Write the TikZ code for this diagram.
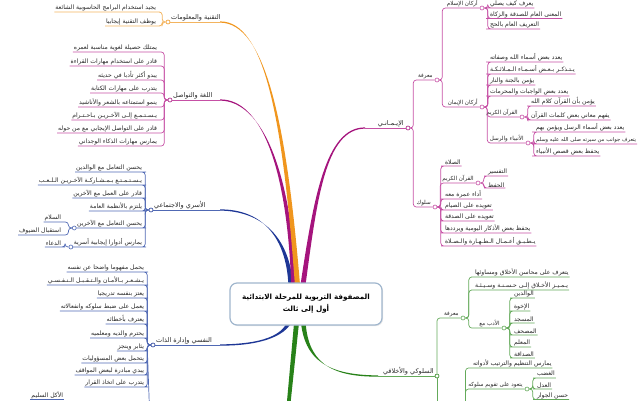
\documentclass[tikz,border=0pt]{standalone}
\usepackage{fontspec}
\TeXXeTstate=1
\newfontfamily\arf[Script=Arabic]{DejaVu Sans}
\usetikzlibrary{calc,shadows}
\definecolor{org}{RGB}{240,150,30}
\definecolor{orgl}{RGB}{243,180,95}
\definecolor{mag}{RGB}{165,20,125}
\definecolor{magl}{RGB}{198,80,165}
\definecolor{blu}{RGB}{30,55,150}
\definecolor{blul}{RGB}{80,105,180}
\definecolor{grn}{RGB}{40,130,25}
\definecolor{grnl}{RGB}{100,170,90}
\definecolor{boxb}{RGB}{160,182,205}
\newcommand{\taper}[6]{\fill[#1] ($(#2)+(-#6,0)$) .. controls ($(#3)+(-#6*0.7,0)$) and ($(#4)+(0,-1)$) .. ($(#5)+(0,-0.6)$) -- ($(#5)+(0,0.6)$) .. controls ($(#4)+(0,1)$) and ($(#3)+(#6*0.7,0)$) .. ($(#2)+(#6,0)$) -- cycle;}
\newcommand{\lchild}[6]{\node[item,anchor=south east] (#1) at (#4,#5) {#6}; \draw[#2] (#3.west) -- ++(-3.5,0) |- (#1.south east) -- (#1.south west);}
\newcommand{\rchild}[6]{\node[item,anchor=south west] (#1) at (#4,#5) {#6}; \draw[#2] (#3.east) -- ++(3.5,0) |- (#1.south west) -- (#1.south east);}
\tikzset{
  item/.style={font=\arf\fontsize{6.1}{7}\selectfont, inner sep=0.8pt, text=black!85},
  sub/.style={font=\arf\fontsize{5.6}{7}\selectfont, inner sep=0.8pt, text=black!85},
  lbl/.style={font=\arf\fontsize{6.5}{7}\selectfont, inner sep=1pt, text=black!85},
  jn/.style={circle, draw=#1, fill=white, inner sep=0pt, minimum size=4pt, line width=0.6pt},
  othin/.style={draw=orgl, line width=0.8pt, rounded corners=3pt},
  mthin/.style={draw=magl, line width=0.7pt, rounded corners=3pt},
  bthin/.style={draw=blul, line width=0.7pt, rounded corners=3pt},
  gthin/.style={draw=grnl, line width=0.7pt, rounded corners=3pt},
  rootbox/.style={draw=boxb, line width=1.2pt, fill=white, rounded corners=7pt, align=center,
    minimum width=152pt, minimum height=42pt, font=\arf\bfseries\fontsize{7.2}{12}\selectfont,
    drop shadow={opacity=0.2, shadow xshift=1pt, shadow yshift=-1pt}}
}
\begin{document}
\begin{tikzpicture}[x=1pt,y=-1pt]
\useasboundingbox (0,0) rectangle (644,400);
\clip (0,0) rectangle (644,400);
% ---------- thick main branches ----------
\coordinate (sA) at (298,292); \coordinate (cA1) at (285,120); \coordinate (cA2) at (265,22); \coordinate (eA) at (220,22);
\coordinate (sB) at (294,292); \coordinate (cB1) at (290,170); \coordinate (cB2) at (262,100); \coordinate (eB) at (220,100);
\coordinate (sC) at (291,292); \coordinate (cC1) at (290,235); \coordinate (cC2) at (260,210); \coordinate (eC) at (220,210);
\coordinate (sG) at (302,292); \coordinate (cG1) at (315,200); \coordinate (cG2) at (325,128); \coordinate (eG) at (365,128);
\coordinate (sD) at (291,318); \coordinate (cD1) at (285,340); \coordinate (cD2) at (250,345); \coordinate (eD) at (220,345);
\coordinate (sF) at (303,318); \coordinate (cF1) at (305,362); \coordinate (cF2) at (330,376); \coordinate (eF) at (378,376);
\coordinate (sE) at (297,318); \coordinate (eE) at (288,410);
\taper{blu}{sC}{cC1}{cC2}{eC}{2.4}
\taper{mag}{sB}{cB1}{cB2}{eB}{2.6}
\taper{org}{sA}{cA1}{cA2}{eA}{2.6}
\taper{mag}{sG}{cG1}{cG2}{eG}{2.6}
\taper{blu}{sD}{cD1}{cD2}{eD}{2.4}
\taper{grn}{sF}{cF1}{cF2}{eF}{2.4}
\fill[grn] ($(sE)+(-2.5,0)$) -- ($(sE)+(2.5,0)$) -- ($(eE)+(1.8,0)$) -- ($(eE)+(-1.8,0)$) -- cycle;
% ---------- root ----------
\node[rootbox] (root) at (306,304) {\beginR المصفوفة التربوية للمرحلة الابتدائية\endR\\\beginR أول إلى ثالث\endR};

% ---------- A: technology (orange) ----------
\node[jn=org] (jA) at (168,22) {};
\draw[draw=orgl, line width=1pt] (eA) -- (jA.east);
\node[lbl, anchor=south west] (lA) at ([xshift=2pt]jA.center) {\beginR التقنية والمعلومات\endR};
\lchild{A1}{othin}{jA}{157}{12}{\beginR يجيد استخدام البرامج الحاسوبية الشائعة\endR}
\lchild{A2}{othin}{jA}{157}{26}{\beginR يوظف التقنية إيجابيا\endR}

% ---------- B: language (magenta) ----------
\node[jn=mag] (jB) at (170,100) {};
\draw[draw=magl, line width=1pt] (eB) -- (jB.east);
\node[lbl, anchor=south west] (lB) at ([xshift=2pt]jB.center) {\beginR اللغة والتواصل\endR};
\lchild{B1}{mthin}{jB}{158}{52}{\beginR يمتلك حصيلة لغوية مناسبة لعمره\endR}
\lchild{B2}{mthin}{jB}{158}{66}{\beginR قادر على استخدام مهارات القراءة\endR}
\lchild{B3}{mthin}{jB}{158}{80}{\beginR يبدو أكثر تأدبا في حديثه\endR}
\lchild{B4}{mthin}{jB}{158}{93}{\beginR يتدرب على مهارات الكتابة\endR}
\lchild{B5}{mthin}{jB}{158}{107}{\beginR ينمو استمتاعه بالشعر والأناشيد\endR}
\lchild{B6}{mthin}{jB}{158}{120}{\beginR يـسـتـمـع إلـى الآخـريـن بـاحـتـرام\endR}
\lchild{B7}{mthin}{jB}{158}{133}{\beginR قادر على التواصل الإيجابي مع من حوله\endR}
\lchild{B8}{mthin}{jB}{158}{146}{\beginR يمارس مهارات الذكاء الوجداني\endR}

% ---------- C: family & social (blue) ----------
\node[jn=blu] (jC) at (151,210) {};
\draw[draw=blul, line width=1pt] (eC) -- (jC.east);
\node[lbl, anchor=south west] (lC) at ([xshift=2pt]jC.center) {\beginR الأسري والاجتماعي\endR};
\lchild{C1}{bthin}{jC}{143}{172}{\beginR يحسن التعامل مع الوالدين\endR}
\lchild{C2}{bthin}{jC}{143}{185}{\beginR يـسـتـمـتـع بـمـشـاركـة الآخـريـن الـلـعـب\endR}
\lchild{C3}{bthin}{jC}{143}{198}{\beginR قادر على العمل مع الآخرين\endR}
\lchild{C4}{bthin}{jC}{143}{211}{\beginR يلتزم بالأنظمة العامة\endR}
\lchild{C5}{bthin}{jC}{143}{228}{\beginR يحسن التعامل مع الآخرين\endR}
\node[jn=blul] (jC5) at ([xshift=-2pt]C5.south west) {};
\lchild{C6}{bthin}{jC}{143}{247}{\beginR يمارس أدوارا إيجابية أسرية\endR}
\node[jn=blul] (jC6) at ([xshift=-2pt]C6.south west) {};
\lchild{C51}{bthin}{jC5}{62}{222}{\beginR السلام\endR}
\lchild{C52}{bthin}{jC5}{62}{235}{\beginR استقبال الضيوف\endR}
\lchild{C61}{bthin}{jC6}{62}{247}{\beginR الدعاء\endR}

% ---------- D: self (blue) ----------
\node[jn=blu] (jD) at (153,345) {};
\draw[draw=blul, line width=1pt] (eD) -- (jD.east);
\node[lbl, anchor=south west] (lD) at ([xshift=2pt]jD.center) {\beginR النفسي وإدارة الذات\endR};
\lchild{D1}{bthin}{jD}{145}{272}{\beginR يحمل مفهوما واضحا عن نفسه\endR}
\lchild{D2}{bthin}{jD}{145}{285}{\beginR يـشـعـر بـالأمـان والـتـقـبـل الـنـفـسـي\endR}
\lchild{D3}{bthin}{jD}{145}{298}{\beginR يعتز بنفسه تدريجيا\endR}
\lchild{D4}{bthin}{jD}{145}{311}{\beginR يعمل على ضبط سلوكه وانفعالاته\endR}
\lchild{D5}{bthin}{jD}{145}{324}{\beginR يعترف بأخطائه\endR}
\lchild{D6}{bthin}{jD}{145}{338}{\beginR يحترم والديه ومعلميه\endR}
\lchild{D7}{bthin}{jD}{145}{351}{\beginR يثابر وينجز\endR}
\lchild{D8}{bthin}{jD}{145}{363}{\beginR يتحمل بعض المسؤوليات\endR}
\lchild{D9}{bthin}{jD}{145}{375}{\beginR يبدي مبادرة لبعض المواقف\endR}
\lchild{D10}{bthin}{jD}{145}{387}{\beginR يتدرب على اتخاذ القرار\endR}
\coordinate (dEnd) at (149.5,410);
\draw[bthin] (jD.west) -- ++(-3.5,0) -- (dEnd);
\node[item, anchor=south east] (D11) at (64,399.5) {\beginR الأكل السليم\endR};
\draw[bthin] (D11.south west) -- (D11.south east);

% ---------- F: behaviour & ethics (green) ----------
\node[jn=grn] (jF) at (437,376) {};
\draw[draw=grnl, line width=1pt] (eF) -- (jF.west);
\node[lbl, anchor=south east] (lF) at ([xshift=-2pt]jF.center) {\beginR السلوكي والأخلاقي\endR};
\node[jn=grnl] (jF1) at (463,318) {};
\draw[gthin] (jF.north) |- (jF1.west);
\node[sub, anchor=south east] (lF1) at ([xshift=-1pt]jF1.west) {\beginR معرفة\endR};
\coordinate (fEnd) at (437,410);
\draw[gthin] (jF.south) -- (fEnd);
\rchild{F11}{gthin}{jF1}{474}{277}{\beginR يتعرف على محاسن الأخلاق ومساوئها\endR}
\rchild{F12}{gthin}{jF1}{474}{290}{\beginR يـمـيـز الأخـلاق إلـى حـسـنـة وسـيـئـة\endR}
\node[jn=grnl] (jF13) at (504,328) {};
\draw[gthin] (jF1.east) -- ++(3.5,0) |- (jF13.west);
\node[sub, anchor=south east] (lF13) at ([xshift=-1pt]jF13.west) {\beginR الأدب مع\endR};
\rchild{F131}{gthin}{jF13}{513}{298}{\beginR الوالدين\endR}
\rchild{F132}{gthin}{jF13}{513}{311}{\beginR الإخوة\endR}
\rchild{F133}{gthin}{jF13}{513}{323}{\beginR المسجد\endR}
\rchild{F134}{gthin}{jF13}{513}{335}{\beginR المصحف\endR}
\rchild{F135}{gthin}{jF13}{513}{347}{\beginR المعلم\endR}
\rchild{F136}{gthin}{jF13}{513}{358}{\beginR الصداقة\endR}
\coordinate (jF2) at (462,412);
\node[item, anchor=south west] (F21) at (472,368) {\beginR يمارس التنظيم والترتيب لأدواته\endR};
\draw[gthin] (jF2) -- ++(3.5,0) |- (F21.south west) -- (F21.south east);
\node[jn=grnl] (jF22) at (527,389) {};
\draw[gthin] (jF2) -- ++(3.5,0) |- (jF22.west);
\node[sub, anchor=south east] (lF22) at ([xshift=-1pt]jF22.west) {\beginR يتعود على تقويم سلوكه\endR};
\rchild{F221}{gthin}{jF22}{536}{378}{\beginR الغضب\endR}
\rchild{F222}{gthin}{jF22}{536}{389}{\beginR العدل\endR}
\rchild{F223}{gthin}{jF22}{536}{399.5}{\beginR حسن الجوار\endR}

% ---------- G: faith (magenta) ----------
\node[jn=mag] (jG) at (408,128) {};
\draw[draw=magl, line width=1pt] (eG) -- (jG.west);
\node[lbl, anchor=south east] (lG) at ([xshift=-3pt]jG.center) {\beginR الإيـمـانـي\endR};
\node[jn=magl] (jG1) at (437,80) {};
\draw[mthin] (jG.east) -- ++(3,0) |- (jG1.west);
\node[sub, anchor=south east] (lG1) at ([xshift=-1pt]jG1.west) {\beginR معرفة\endR};
\node[jn=magl] (jG2) at (435,207) {};
\draw[mthin] (jG.east) -- ++(3,0) |- (jG2.west);
\node[sub, anchor=south east] (lG2) at ([xshift=-1pt]jG2.west) {\beginR سلوك\endR};
% arkan al-islam
\node[jn=magl] (jG11) at (482,8) {};
\draw[mthin] (jG1.east) -- ++(3,0) |- (jG11.west);
\node[sub, anchor=south east] (lG11) at ([xshift=-1pt]jG11.west) {\beginR أركان الإسلام\endR};
\rchild{G111}{mthin}{jG11}{489}{8}{\beginR يعرف كيف يصلي\endR}
\rchild{G112}{mthin}{jG11}{489}{18.5}{\beginR المعنى العام للصدقة والزكاة\endR}
\rchild{G113}{mthin}{jG11}{489}{29}{\beginR التعريف العام بالحج\endR}
% arkan al-iman
\node[jn=magl] (jG12) at (482,107) {};
\draw[mthin] (jG1.east) -- ++(3,0) |- (jG12.west);
\node[sub, anchor=south east] (lG12) at ([xshift=-1pt]jG12.west) {\beginR أركان الإيمان\endR};
\rchild{G121}{mthin}{jG12}{489}{62}{\beginR يعدد بعض أسماء الله وصفاته\endR}
\rchild{G122}{mthin}{jG12}{489}{74}{\beginR يـتـذكـر بـعـض أسـمـاء الـمـلائـكـة\endR}
\rchild{G123}{mthin}{jG12}{489}{85}{\beginR يؤمن بالجنة والنار\endR}
\rchild{G124}{mthin}{jG12}{489}{96}{\beginR يعدد بعض الواجبات والمحرمات\endR}
\node[jn=magl] (jG125) at (522,117) {};
\draw[mthin] (jG12.east) -- ++(3,0) |- (jG125.west);
\node[sub, anchor=south east] (lG125) at ([xshift=-1pt]jG125.west) {\beginR القرآن الكريم\endR};
\rchild{G1251}{mthin}{jG125}{530}{106}{\beginR يؤمن بأن القرآن كلام الله\endR}
\rchild{G1252}{mthin}{jG125}{530}{120}{\beginR يفهم معاني بعض كلمات القرآن\endR}
\node[jn=magl] (jG126) at (528,143) {};
\draw[mthin] (jG12.east) -- ++(3,0) |- (jG126.west);
\node[sub, anchor=south east] (lG126) at ([xshift=-1pt]jG126.west) {\beginR الأنبياء والرسل\endR};
\rchild{G1261}{mthin}{jG126}{535}{132}{\beginR يعدد بعض أسماء الرسل ويؤمن بهم\endR}
\node[item, font=\arf\fontsize{5.3}{6}\selectfont, anchor=south west] (G1262) at (535,144) {\beginR يتعرف جوانب من سيرته صلى الله عليه وسلم\endR};
\draw[mthin] (jG126.east) -- ++(3.5,0) |- (G1262.south west) -- (G1262.south east);
\rchild{G1263}{mthin}{jG126}{535}{156}{\beginR يحفظ بعض قصص الأنبياء\endR}
% suluk
\rchild{G21}{mthin}{jG2}{444}{166}{\beginR الصلاة\endR}
\node[jn=magl] (jG22) at (478,183) {};
\draw[mthin] (jG2.east) -- ++(3,0) |- (jG22.west);
\node[sub, anchor=south east] (lG22) at ([xshift=-1pt]jG22.west) {\beginR القرآن الكريم\endR};
\rchild{G221}{mthin}{jG22}{487}{176}{\beginR التفسير\endR}
\rchild{G222}{mthin}{jG22}{487}{188}{\beginR الحفظ\endR}
\rchild{G23}{mthin}{jG2}{444}{199}{\beginR أداء عمرة معه\endR}
\rchild{G24}{mthin}{jG2}{444}{210}{\beginR تعويده على الصيام\endR}
\rchild{G25}{mthin}{jG2}{444}{221}{\beginR تعويده على الصدقة\endR}
\rchild{G26}{mthin}{jG2}{444}{233}{\beginR يحفظ بعض الأذكار اليومية ويرددها\endR}
\rchild{G27}{mthin}{jG2}{444}{246}{\beginR يـطـبـق أعـمـال الـطـهـارة والـصـلاة\endR}
\end{tikzpicture}
\end{document}
